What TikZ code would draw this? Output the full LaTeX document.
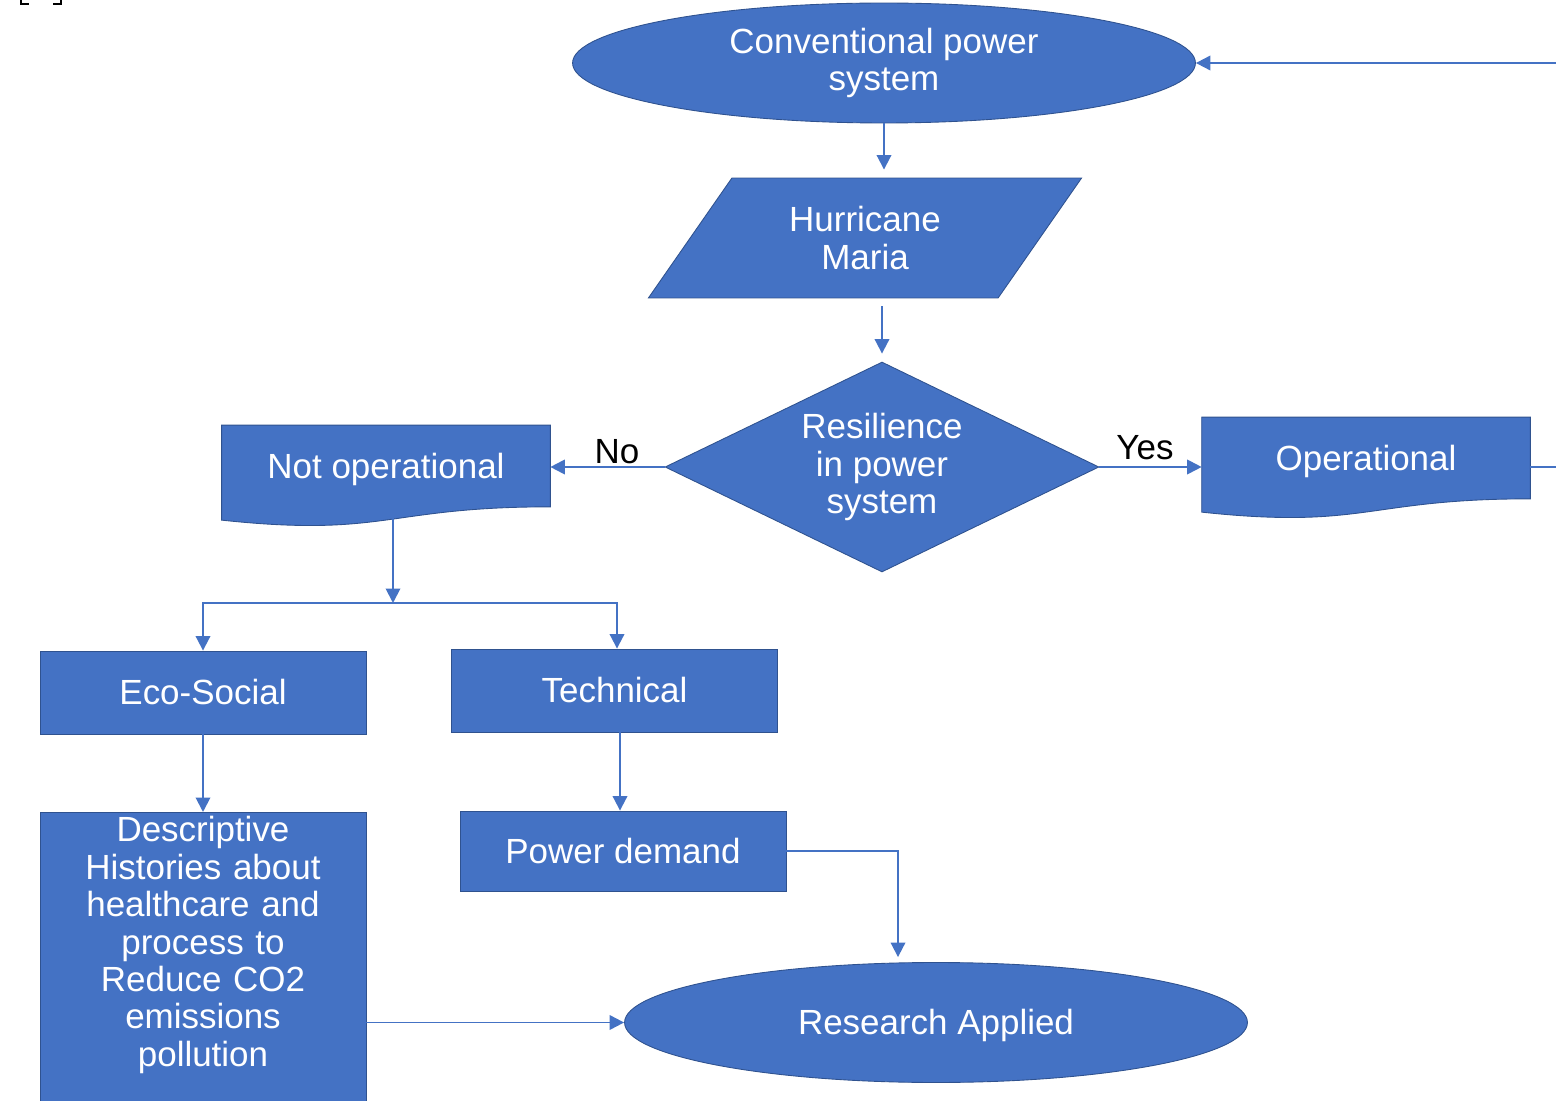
\documentclass[tikz,border=0pt]{standalone}
\usepackage{fontspec}
\setmainfont{Liberation Sans}
\usetikzlibrary{shapes.geometric,arrows.meta,backgrounds}
\definecolor{boxblue}{HTML}{4472C4}
\definecolor{boxedge}{HTML}{2F528F}
\definecolor{linkblue}{HTML}{4472C4}

\begin{document}
\begin{tikzpicture}[x=0.02cm,y=-0.02cm,
	every node/.style={font=\fontsize{19.9}{21.3}\selectfont},
	blk/.style={draw=boxedge,fill=boxblue,text=white,line width=0.5pt,inner sep=0pt,align=center},
	oneline/.style={text height=18pt,text depth=4.2pt},
	oval/.style={blk,ellipse,minimum width=12.46cm,minimum height=2.4cm},
	stepbox/.style={blk,rectangle,minimum width=6.52cm,minimum height=1.66cm},
	docbox/.style={rectangle,text=white,minimum width=6.56cm,minimum height=1.62cm,inner sep=0pt,oneline},
	arr/.style={draw=linkblue,line width=1.1pt,-{Triangle[length=0.29cm,width=0.29cm]}}]
	\useasboundingbox (0,0) rectangle (1556,1101);
	\clip (0,0) rectangle (1556,1101);
	% cut-off marks, top left
	\draw[line width=1.2pt] (21,-2) -- (21,4) -- (29,4);
	\draw[line width=1.2pt] (61,-2) -- (61,4) -- (53,4);
	\node[oval] (conv) at (884,63) {Conventional power\\system};
	\node[blk,trapezium,trapezium left angle=53,trapezium right angle=127,trapezium stretches=true,minimum width=8.68cm,minimum height=2.4cm] (hur) at (865,238) {Hurricane\\Maria};
	\node[blk,diamond,aspect=2.07,minimum width=8.68cm,minimum height=4.2cm] (dia) at (882,467) {Resilience\\in power\\system};
	\node[docbox] (nop) at (386,466) {Not operational};
	\node[docbox] (op) at (1366,458) {Operational};
	\node (nolbl) at (617,452) {No};
	\node (yeslbl) at (1145,448) {Yes};
	\coordinate (split) at (393,603);
	\node[stepbox] (eco) at (203,692.5) {Eco-Social};
	\node[stepbox] (tech) at (614.5,690.5) {Technical};
	\node[stepbox,minimum height=1.6cm] (pow) at (623,851) {Power demand};
	\node[blk,anchor=north,text width=6.52cm,inner ysep=0.08cm,text depth=5.6cm] (descr) at (203,812) {Descriptive\\Histories about\\healthcare and\\process to\\Reduce CO2\\emissions\\pollution};
	\node[oval,oneline] (res) at (936,1022.5) {Research Applied};
	% document shapes behind their texts
	\begin{scope}[on background layer]
		\foreach \d in {nop,op}
			\filldraw[draw=boxedge,fill=boxblue,line width=0.5pt] (\d.north west) -- (\d.north east) -- (\d.south east)
				.. controls (\d.south) and ([yshift=-0.616cm]\d.south) .. ([yshift=-0.266cm]\d.south west) -- cycle;
	\end{scope}
	\draw[arr,shorten >=0.16cm] (conv.south) -- (conv.south |- hur.north);
	\draw[arr,shorten <=0.16cm,shorten >=0.16cm] (dia.north |- hur.south) -- (dia.north);
	\draw[arr] (dia.west) -- (dia.west -| nop.east);
	\draw[arr] (dia.east) -- (dia.east -| op.west);
	\draw[arr] (dia.east -| op.east) -- ++(60,0) |- (conv.east);
	\draw[arr] (nop.south -| split) -- (split);
	\draw[arr] (split) -| (eco.north);
	\draw[arr] (split) -| ([xshift=0.05cm]tech.north);
	\draw[arr] (eco.south) -- (descr.north);
	\draw[arr] ([xshift=0.11cm]tech.south) -- ([xshift=0.11cm]tech.south |- pow.north);
	\draw[arr,shorten >=0.1cm] (pow.east) -| ([xshift=-0.76cm]res.north);
	\draw[arr] (descr.east |- res.west) -- (res.west);
\end{tikzpicture}
\end{document}
